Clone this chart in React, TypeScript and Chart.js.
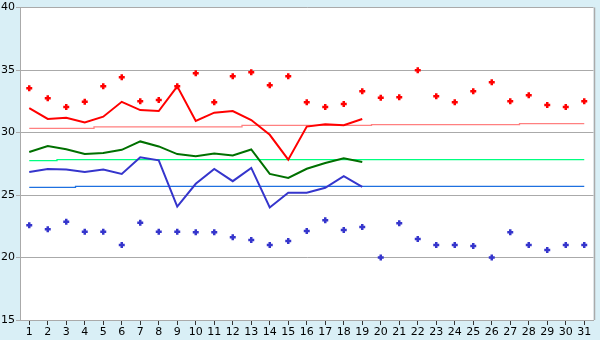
import React, { useEffect, useRef } from "react";
import { Chart, registerables } from "chart.js";

Chart.register(...registerables);

const days = ["1","2","3","4","5","6","7","8","9","10","11","12","13","14","15","16","17","18","19","20","21","22","23","24","25","26","27","28","29","30","31"];

const redPoints = [33.55, 32.75, 32.04, 32.46, 33.7, 34.42, 32.5, 32.6, 33.7, 34.74, 32.43, 34.5, 34.82, 33.78, 34.5, 32.43, 32.04, 32.28, 33.31, 32.78, 32.83, 34.98, 32.91, 32.43, 33.31, 34.02, 32.51, 32.99, 32.2, 32.04, 32.51];
const redLine = [31.96, 31.09, 31.19, 30.8, 31.27, 32.46, 31.8, 31.72, 33.7, 30.93, 31.59, 31.72, 31.0, 29.82, 27.83, 30.48, 30.66, 30.58, 31.09, null, null, null, null, null, null, null, null, null, null, null, null];
const greenLine = [28.44, 28.92, 28.67, 28.28, 28.36, 28.62, 29.29, 28.89, 28.28, 28.1, 28.33, 28.17, 28.65, 26.69, 26.37, 27.1, 27.56, 27.94, 27.65, null, null, null, null, null, null, null, null, null, null, null, null];
const blueLine = [26.85, 27.09, 27.04, 26.85, 27.04, 26.69, 28.02, 27.78, 24.07, 25.9, 27.09, 26.11, 27.17, 24.0, 25.18, 25.18, 25.58, 26.51, 25.66, null, null, null, null, null, null, null, null, null, null, null, null];
const bluePoints = [22.59, 22.27, 22.86, 22.06, 22.06, 21.0, 22.78, 22.06, 22.06, 22.03, 22.03, 21.63, 21.4, 21.0, 21.32, 22.12, 22.99, 22.2, 22.44, 20.0, 22.75, 21.48, 21.0, 21.0, 20.93, 20.0, 22.03, 21.0, 20.61, 21.0, 21.0];
const pinkAvg = [30.34, 30.34, 30.34, 30.34, 30.45, 30.45, 30.45, 30.45, 30.45, 30.45, 30.45, 30.45, 30.58, 30.58, 30.58, 30.58, 30.58, 30.58, 30.58, 30.63, 30.63, 30.63, 30.63, 30.63, 30.63, 30.63, 30.63, 30.71, 30.71, 30.71, 30.71];
const greenAvg = [27.75, 27.75, 27.83, 27.83, 27.83, 27.83, 27.83, 27.83, 27.83, 27.83, 27.83, 27.83, 27.83, 27.83, 27.83, 27.83, 27.83, 27.83, 27.83, 27.83, 27.83, 27.83, 27.83, 27.83, 27.83, 27.83, 27.83, 27.83, 27.83, 27.83, 27.83];
const blueAvg = [25.61, 25.61, 25.61, 25.69, 25.69, 25.69, 25.69, 25.69, 25.69, 25.69, 25.69, 25.69, 25.69, 25.69, 25.69, 25.69, 25.69, 25.69, 25.69, 25.69, 25.69, 25.69, 25.69, 25.69, 25.69, 25.69, 25.69, 25.69, 25.69, 25.69, 25.69];

const yMin = 15;
const yMax = 40;
const yStep = 5;

const plotFrame = {
  id: "plotFrame",
  beforeDraw(chart: any) {
    const { ctx, chartArea } = chart;
    ctx.save();
    ctx.fillStyle = "#ffffff";
    ctx.fillRect(chartArea.left, chartArea.top, chartArea.right - chartArea.left, chartArea.bottom - chartArea.top);
    ctx.restore();
  },
  afterDraw(chart: any) {
    const { ctx, chartArea } = chart;
    ctx.save();
    ctx.strokeStyle = "#aaaaaa";
    ctx.lineWidth = 1.5;
    ctx.beginPath();
    ctx.moveTo(Math.round(chartArea.right) + 0.5, chartArea.top);
    ctx.lineTo(Math.round(chartArea.right) + 0.5, chartArea.bottom);
    ctx.stroke();
    ctx.restore();
  },
};

export default function App() {
  const ref = useRef<HTMLCanvasElement | null>(null);
  useEffect(() => {
    if (!ref.current) return;
    const font = { family: "DejaVu Sans", size: 11 };
    const chart = new Chart(ref.current, {
      type: "line",
      data: {
        labels: days,
        datasets: [
          { data: redLine, borderColor: "#ff0000", borderWidth: 2, pointRadius: 0, tension: 0, order: 1 },
          { data: greenLine, borderColor: "#007000", borderWidth: 2, pointRadius: 0, tension: 0, order: 2 },
          { data: blueLine, borderColor: "#3535cc", borderWidth: 2, pointRadius: 0, tension: 0, order: 3 },
          { data: pinkAvg, borderColor: "#ff8080", borderWidth: 1.3, pointRadius: 0, stepped: "middle", order: 5 },
          { data: greenAvg, borderColor: "#00ff80", borderWidth: 1.3, pointRadius: 0, stepped: "middle", order: 5 },
          { data: blueAvg, borderColor: "#1e70e0", borderWidth: 1.3, pointRadius: 0, stepped: "middle", order: 5 },
          { data: redPoints, showLine: false, pointStyle: "cross", pointRadius: 3, borderColor: "#ff0000", backgroundColor: "#ff0000", borderWidth: 2.5, order: 0 },
          { data: bluePoints, showLine: false, pointStyle: "cross", pointRadius: 3, borderColor: "#3535cc", backgroundColor: "#3535cc", borderWidth: 2.5, order: 0 },
        ],
      },
      options: {
        animation: false,
        responsive: false,
        maintainAspectRatio: false,
        layout: { padding: { top: 5, right: 5, left: 0, bottom: 0 } },
        plugins: { legend: { display: false }, tooltip: { enabled: false } },
        scales: {
          x: {
            offset: true,
            grid: { display: true, drawOnChartArea: false, drawTicks: true, tickLength: 5, offset: false, color: "#333333" },
            border: { color: "#aaaaaa" },
            ticks: { color: "#000000", font, padding: 1, maxRotation: 0, autoSkip: false },
            afterFit: (axis: any) => { axis.height = 20; },
          },
          y: {
            min: yMin,
            max: yMax,
            grid: { color: "#aaaaaa", tickLength: 4, drawTicks: true },
            border: { color: "#aaaaaa" },
            ticks: { stepSize: yStep, color: "#000000", font, padding: 1 },
            afterFit: (axis: any) => { axis.width = 20; },
          },
        },
      },
      plugins: [plotFrame],
    });
    return () => chart.destroy();
  }, []);
  return (
    <div style={{ position: "fixed", left: 0, top: 0, width: 600, height: 340, background: "#d9eff6" }}>
      <canvas ref={ref} width={600} height={340} style={{ display: "block", width: 600, height: 340 }} />
    </div>
  );
}
